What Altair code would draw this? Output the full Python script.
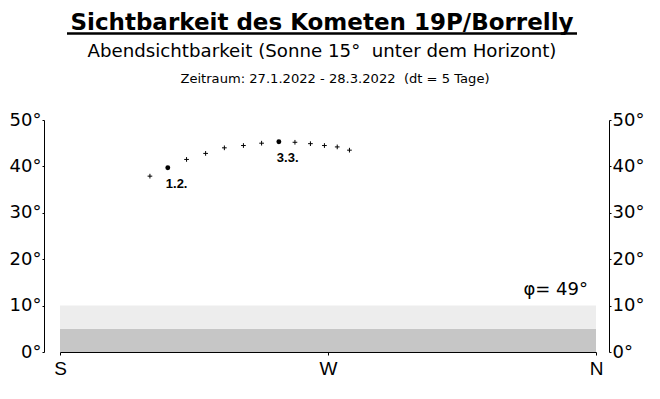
import altair as alt
import pandas as pd

# ---- data ----
dates = ["27.1.", "1.2.", "6.2.", "11.2.", "16.2.", "21.2.", "26.2.",
         "3.3.", "8.3.", "13.3.", "18.3.", "23.3.", "28.3."]
azimuth = [30.2, 36.2, 42.5, 48.9, 55.2, 61.6, 67.7, 73.5, 78.9, 84.1, 88.8, 93.1, 97.2]
altitude = [37.9, 39.7, 41.5, 42.8, 44.0, 44.5, 45.0, 45.3, 45.2, 44.9, 44.5, 44.2, 43.5]
labelled = ["1.2.", "3.3."]

band_low = [0, 5]
band_high = [5, 10]
band_kind = ["dense", "sparse"]

dir_values = [0, 90, 180]
dir_labels = ["S", "W", "N"]
alt_ticks = [0, 10, 20, 30, 40, 50]

title_main = "Sichtbarkeit des Kometen 19P/Borrelly"
title_sub = "Abendsichtbarkeit (Sonne 15°\u00a0 unter dem Horizont)"
title_period = "Zeitraum: 27.1.2022 - 28.3.2022 \u00a0(dt = 5 Tage)"
latitude_text = "φ= 49°"
latitude_alt = 12.3

FONT = "Liberation Sans"
WIDE = "DejaVu Sans"

df = pd.DataFrame({"date": dates, "az": azimuth, "alt": altitude})
df["big"] = df["date"].isin(labelled)
bands = pd.DataFrame({"lo": band_low, "hi": band_high, "kind": band_kind,
                      "a0": [dir_values[0]] * 2, "a1": [dir_values[-1]] * 2})

xscale = alt.Scale(domain=[dir_values[0], dir_values[-1]], nice=False, zero=False)
yscale = alt.Scale(domain=[alt_ticks[0], alt_ticks[-1]], nice=False)

label_expr = "{" + ",".join(f"'{v}':'{l}'" for v, l in zip(dir_values, dir_labels)) + "}[datum.value]"
xaxis = alt.Axis(values=dir_values, labelExpr=label_expr, title=None, domainColor="black",
                 tickColor="black", tickSize=3, labelFont=FONT, labelFontSize=19,
                 labelColor="black", labelPadding=4, grid=False, labelFlush=False)
left_axis = alt.Axis(values=alt_ticks, labelExpr="datum.value + '°'", title=None, orient="left",
                     offset=16, domainColor="black", tickColor="black", tickSize=2,
                     labelFont=WIDE, labelFontSize=18, labelColor="black", labelPadding=1,
                     grid=False)
right_axis = alt.Axis(values=alt_ticks, labelExpr="datum.value + '°'", title=None, orient="right",
                      offset=13, domainColor="black", tickColor="black", tickSize=2,
                      labelFont=WIDE, labelFontSize=18, labelColor="black", labelPadding=1,
                      grid=False)

band_layer = alt.Chart(bands).mark_rect().encode(
    x=alt.X("a0:Q", scale=xscale, axis=xaxis),
    x2="a1:Q",
    y=alt.Y("lo:Q", scale=yscale, axis=left_axis),
    y2="hi:Q",
    fill=alt.Fill("kind:N", scale=alt.Scale(domain=["dense", "sparse"],
                                            range=["#c6c6c6", "#ededed"]), legend=None),
)

plus_layer = alt.Chart(df).transform_filter("!datum.big").mark_point(
    shape="M-1,0H1M0,-1V1", size=22, filled=False, color="black", strokeWidth=1, opacity=1
).encode(
    x=alt.X("az:Q", scale=xscale, axis=xaxis),
    y=alt.Y("alt:Q", scale=yscale, axis=right_axis),
)

dot_layer = alt.Chart(df).transform_filter("datum.big").mark_circle(
    size=24, color="black", opacity=1
).encode(
    x=alt.X("az:Q", scale=xscale, axis=xaxis),
    y=alt.Y("alt:Q", scale=yscale, axis=None),
)

label_layer = alt.Chart(df).transform_filter("datum.big").mark_text(
    align="left", baseline="alphabetic", dx=-2, dy=20, font=FONT, fontSize=13,
    fontWeight="bold", color="black"
).encode(
    x=alt.X("az:Q", scale=xscale, axis=xaxis),
    y=alt.Y("alt:Q", scale=yscale, axis=None),
    text="date:N",
)

phi_layer = alt.Chart(pd.DataFrame({"a": [dir_values[-1]], "h": [latitude_alt],
                                    "t": [latitude_text]})).mark_text(
    align="right", baseline="alphabetic", dx=-8, font=WIDE, fontSize=18, color="black"
).encode(
    x=alt.X("a:Q", scale=xscale, axis=xaxis),
    y=alt.Y("h:Q", scale=yscale, axis=None),
    text="t:N",
)

one = alt.Data(values=[{}])
t1 = alt.Chart(one).mark_text(text=title_main, font=WIDE, fontSize=23, fontWeight="bold",
                              align="center", baseline="alphabetic", color="black").encode(
    x=alt.value(262), y=alt.value(-90.5))
underline = alt.Chart(one).mark_rule(color="black", strokeWidth=2.5).encode(
    x=alt.value(7), x2=alt.value(517), y=alt.value(-86.5))
t2 = alt.Chart(one).mark_text(text=title_sub, font=WIDE, fontSize=18.2,
                              align="center", baseline="alphabetic", color="black").encode(
    x=alt.value(262), y=alt.value(-63))
t3 = alt.Chart(one).mark_text(text=title_period, font=WIDE, fontSize=13.1,
                              align="center", baseline="alphabetic", color="black").encode(
    x=alt.value(275), y=alt.value(-37))

chart = alt.layer(
    band_layer, plus_layer, dot_layer, label_layer, phi_layer, t1, underline, t2, t3
).resolve_axis(y="independent").properties(
    width=536, height=232,
    autosize=alt.AutoSizeParams(type="none"),
    padding={"left": 52, "top": 112, "right": 56, "bottom": 30},
    background="white",
).configure_view(stroke=None)

chart.save("out.html", embed_options={"renderer": "svg", "actions": False})
